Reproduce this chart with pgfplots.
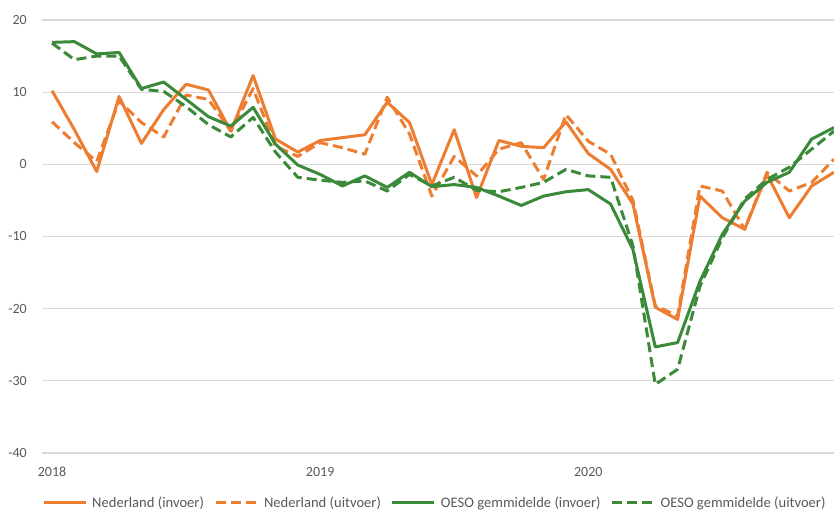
\documentclass[border=0pt]{standalone}
\usepackage{pgfplots}
\pgfplotsset{compat=1.18}
\usepackage{fontspec}
\setmainfont{Carlito}
\definecolor{nlorange}{HTML}{ED7D31}
\definecolor{oesogreen}{HTML}{3A8A3A}
\definecolor{gridgray}{HTML}{D9D9D9}
\definecolor{txtgray}{HTML}{595959}

\begin{document}
\begin{tikzpicture}
\begin{axis}[
  scale only axis,
  anchor=south west, at={(0pt,0pt)},
  width=792pt, height=433pt,
  xmin=-0.45, xmax=35,
  ymin=-40, ymax=20,
  ytick={-40,-30,...,20},
  xtick={0,12,24},
  xticklabels={2018,2019,2020},
  axis line style={draw=none},
  major tick length=0pt,
  ymajorgrids,
  grid style={gridgray, line width=1.3pt},
  tick label style={font=\fontsize{14}{16}\selectfont, text=txtgray},
  yticklabel style={inner sep=0pt, xshift=-15pt},
  xticklabel style={inner sep=0pt, yshift=-14pt},
  /pgf/number format/assume math mode=true,
  clip=false,
  every axis plot/.append style={line width=3pt, line join=round},
  legend columns=4,
  legend style={at={(0.496,-0.115)}, anchor=center, draw=none, fill=none,
    font=\fontsize{14.6}{16}\selectfont, text=txtgray,
    /tikz/every odd column/.append style={column sep=3pt},
    /tikz/every even column/.append style={column sep=8pt}},
  legend image code/.code={\draw[#1] (0pt,0pt) -- (42pt,0pt);},
]
% Nederland (invoer)
\addplot[nlorange] coordinates {
(0,10.2)(1,4.8)(2,-1.0)(3,9.4)(4,2.9)(5,7.6)(6,11.1)(7,10.3)(8,4.6)(9,12.3)(10,3.5)(11,1.7)
(12,3.3)(13,3.7)(14,4.1)(15,8.6)(16,5.8)(17,-2.8)(18,4.8)(19,-4.6)(20,3.3)(21,2.5)(22,2.3)(23,5.9)
(24,1.5)(25,-0.7)(26,-5.5)(27,-19.8)(28,-21.5)(29,-4.4)(30,-7.4)(31,-9.0)(32,-1.4)(33,-7.4)(34,-3.0)(35,-1.1)};
\addlegendentry{Nederland (invoer)}
% Nederland (uitvoer)
\addplot[nlorange, dash pattern=on 10pt off 5pt] coordinates {
(0,5.9)(1,3.0)(2,0.4)(3,8.8)(4,5.8)(5,3.8)(6,9.6)(7,9.0)(8,4.6)(9,10.5)(10,2.5)(11,1.1)
(12,3.0)(13,2.3)(14,1.4)(15,9.3)(16,4.2)(17,-4.4)(18,1.1)(19,-1.6)(20,2.1)(21,3.0)(22,-2.1)(23,6.9)
(24,3.2)(25,1.4)(26,-5.0)(27,-19.6)(28,-21.0)(29,-3.0)(30,-3.7)(31,-9.0)(32,-1.1)(33,-3.7)(34,-2.5)(35,0.7)};
\addlegendentry{Nederland (uitvoer)}
% OESO gemmidelde (invoer)
\addplot[oesogreen] coordinates {
(0,16.9)(1,17.0)(2,15.3)(3,15.5)(4,10.5)(5,11.4)(6,9.0)(7,6.6)(8,5.3)(9,7.9)(10,2.8)(11,-0.1)
(12,-1.4)(13,-3.0)(14,-1.6)(15,-3.2)(16,-1.1)(17,-3.1)(18,-2.8)(19,-3.2)(20,-4.4)(21,-5.7)(22,-4.4)(23,-3.8)
(24,-3.5)(25,-5.5)(26,-11.8)(27,-25.3)(28,-24.7)(29,-16.2)(30,-9.7)(31,-5.1)(32,-2.5)(33,-1.1)(34,3.5)(35,5.1)};
\addlegendentry{OESO gemmidelde (invoer)}
% OESO gemmidelde (uitvoer)
\addplot[oesogreen, dash pattern=on 10pt off 5pt] coordinates {
(0,16.8)(1,14.5)(2,15.0)(3,15.0)(4,10.4)(5,10.1)(6,8.0)(7,5.5)(8,3.8)(9,6.5)(10,1.7)(11,-1.8)
(12,-2.2)(13,-2.5)(14,-2.3)(15,-3.7)(16,-1.4)(17,-3.0)(18,-1.8)(19,-3.6)(20,-3.8)(21,-3.2)(22,-2.5)(23,-0.7)
(24,-1.6)(25,-1.8)(26,-11.3)(27,-30.5)(28,-28.4)(29,-16.9)(30,-10.2)(31,-4.8)(32,-2.1)(33,-0.4)(34,2.1)(35,4.6)};
\addlegendentry{OESO gemmidelde (uitvoer)}
\end{axis}
\pgfresetboundingbox
\path (-42pt,-58pt) rectangle (792pt,453pt);
\end{tikzpicture}
\end{document}
